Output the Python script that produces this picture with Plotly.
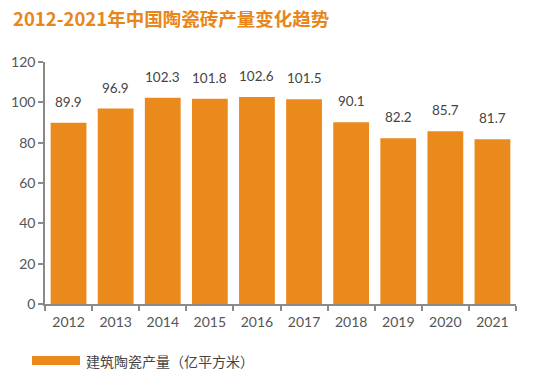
import plotly.graph_objects as go

years = ["2012", "2013", "2014", "2015", "2016", "2017", "2018", "2019", "2020", "2021"]
output = [89.9, 96.9, 102.3, 101.8, 102.6, 101.5, 90.1, 82.2, 85.7, 81.7]
y_ticks = [0, 20, 40, 60, 80, 100, 120]

title_text = "2012-2021年中国陶瓷砖产量变化趋势"
legend_text = "建筑陶瓷产量（亿平方米）"

ORANGE = "#EA8A1C"
AXIS = "#8a8a8a"
FONT = "Lato, Noto Sans, Noto Sans CJK SC, sans-serif"

fig = go.Figure()
fig.add_trace(go.Bar(
    x=years, y=output, marker=dict(color=ORANGE, line=dict(width=0)),
    showlegend=False, hoverinfo="skip",
))

for i, v in enumerate(output):
    fig.add_annotation(x=i, y=v, text=f"{v:.1f}", showarrow=False,
                       yanchor="middle", yshift=21,
                       font=dict(size=13.5, color="#444444", family=FONT))

fig.add_annotation(xref="paper", yref="paper", x=(11-45)/471, y=1 + 44/242,
                   xanchor="left", yanchor="middle", showarrow=False,
                   text=f"<b>{title_text}</b>",
                   font=dict(size=18.5, color="#E8861A", family="Noto Sans CJK SC, sans-serif"))

# legend drawn as rectangle + text
fig.add_shape(type="rect", xref="paper", yref="paper",
              x0=(32-45)/471, x1=(80-45)/471, y0=(304-365)/242, y1=(304-356)/242,
              fillcolor=ORANGE, line=dict(width=0))
fig.add_annotation(xref="paper", yref="paper", x=(84-45)/471, y=(304-360.5)/242,
                   xanchor="left", yanchor="middle", showarrow=False,
                   text=legend_text,
                   font=dict(size=14, color="#444444", family="Noto Sans CJK SC, sans-serif"))

fig.update_layout(
    width=550, height=384,
    margin=dict(l=45, r=34, t=62, b=80),
    paper_bgcolor="white", plot_bgcolor="white",
    bargap=0.24,
    font=dict(family=FONT, color="#555555"),
    xaxis=dict(type="category", categoryarray=years, range=[-0.5, len(years) - 0.5],
               tickson="boundaries", ticks="outside", ticklen=5,
               tickcolor=AXIS, tickwidth=1.5, showline=True, linecolor=AXIS, linewidth=1.5,
               showgrid=False, tickangle=0, ticklabelstandoff=4,
               tickfont=dict(size=14, color="#555555")),
    yaxis=dict(range=[0, 120], tickvals=y_ticks, ticks="outside", ticklen=5,
               tickcolor=AXIS, tickwidth=1.5, showline=True, linecolor=AXIS, linewidth=1.5,
               showgrid=False, zeroline=False, tickfont=dict(size=14, color="#555555")),
)

fig.write_html("out.html", config={"displayModeBar": False},
               post_script="document.body.style.margin='0';document.body.style.overflow='hidden';")
